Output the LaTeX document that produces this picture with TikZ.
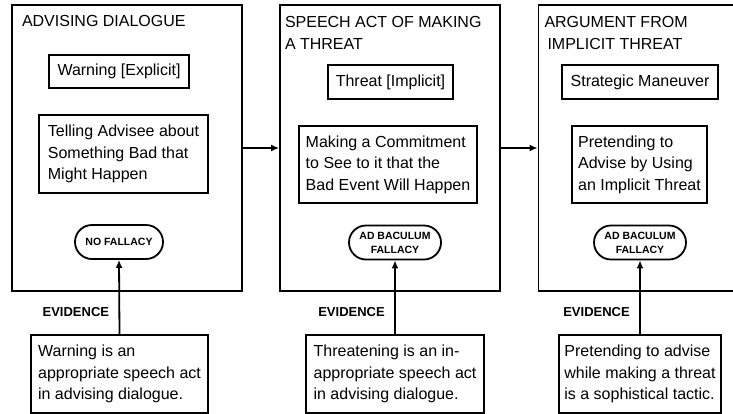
\documentclass[tikz,border=0pt]{standalone}
\usepackage{fontspec}
\setmainfont{Liberation Sans}
\usetikzlibrary{arrows.meta,shapes.misc}
\begin{document}
\begin{tikzpicture}[>={Latex[length=8pt,width=7pt]},x=1pt,y=-1pt,line width=1.8pt,
	panel/.style={draw,minimum width=#1,minimum height=286pt,inner sep=0pt},
	title/.style={anchor=north west,inner sep=0pt,align=left,font=\fontsize{16}{22}\selectfont},
	idea/.style={draw,align=left,inner sep=4pt,font=\fontsize{16}{21.5}\selectfont},
	verdict/.style={draw,rounded rectangle,inner sep=2pt,minimum height=34pt,align=center,font=\fontsize{10.5}{14}\selectfont\bfseries},
	proof/.style={draw,align=left,inner sep=4pt,minimum height=78pt,font=\fontsize{16}{21.5}\selectfont},
	evlabel/.style={left=6pt,font=\fontsize{13}{15}\selectfont\bfseries}]
		\useasboundingbox (0,0) rectangle (733,413);
		\clip (0,0) rectangle (733,413);
		\node[panel=230pt] (p1) at (127,148) {};
		\node[panel=220pt] (p2) at (390,148) {};
		\node[panel=240pt] (p3) at (658.5,148) {};
		\node[title] (t1) at ([shift={(10,10.5)}]p1.north west) {ADVISING DIALOGUE};
		\node[title] (t2) at ([shift={(5,11)}]p2.north west) {SPEECH ACT OF MAKING\\A THREAT};
		\node[title] (t3) at ([shift={(6,11)}]p3.north west) {ARGUMENT FROM\\\hspace{3pt}IMPLICIT THREAT};
		\node[idea,minimum width=140pt,minimum height=33pt] (s1) at (119,71.5) {Warning [Explicit]};
		\node[idea,minimum width=169pt,minimum height=78pt] (m1) at (123.5,154) {Telling Advisee about\\Something Bad that\\Might Happen};
		\node[idea,minimum width=125pt,minimum height=34pt] (s2) at (390.5,82) {Threat [Implicit]};
		\node[idea,minimum width=178pt,minimum height=77pt] (m2) at (388,164.5) {Making a Commitment\\to See to it that the\\Bad Event Will Happen};
		\node[idea,minimum width=156pt,minimum height=34pt] (s3) at (640,82) {Strategic Maneuver};
		\node[idea,minimum width=135pt,minimum height=77pt] (m3) at (639.5,164.5) {Pretending to\\Advise by Using\\an Implicit Threat};
		\node[verdict,minimum width=92pt] (f1) at (119,242) {NO FALLACY};
		\node[verdict,minimum width=96pt] (f2) at (395,242.5) {AD BACULUM\\FALLACY};
		\node[verdict,minimum width=96pt] (f3) at (640,242.5) {AD BACULUM\\FALLACY};
		\node[proof,minimum width=177pt] (e1) at (119.5,374) {Warning is an\\appropriate speech act\\in advising dialogue.};
		\node[proof,minimum width=178pt] (e2) at (395,374) {Threatening is an in-\\appropriate speech act\\in advising dialogue.};
		\node[proof,minimum width=162pt] (e3) at (640,374) {Pretending to advise\\while making a threat\\is a sophistical tactic.};
		\draw[->] (p1.east)--(p2.west);
		\draw[->] (p2.east)--(p3.west);
		\draw[->] (e1.north)--node[evlabel,pos=0.3] {EVIDENCE} (f1.south);
		\draw[->] (e2.north)--node[evlabel,pos=0.3] {EVIDENCE} (f2.south);
		\draw[->] (e3.north)--node[evlabel,pos=0.3] {EVIDENCE} (f3.south);
	\end{tikzpicture}
\end{document}
